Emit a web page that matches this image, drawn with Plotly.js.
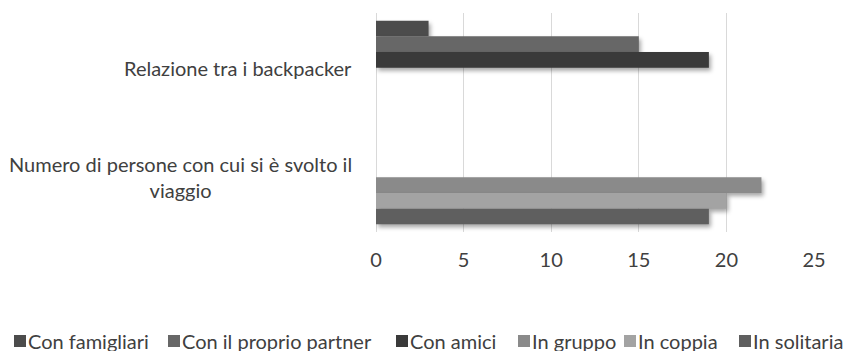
<!DOCTYPE html>
<html>
<head>
<meta charset="utf-8">
<script src="https://cdn.plot.ly/plotly-3.0.1.min.js"></script>
<style>
  html, body { margin: 0; padding: 0; background: #fff; }
  #chart { width: 844px; height: 351px; }
  /* soft drop shadow under the bars */
  .barlayer .point path { filter: drop-shadow(2px 3px 2px rgba(0,0,0,0.35)); }
  /* keep each legend swatch snug against its label */
  .infolayer .legendpoints { transform: translateX(12px); }
</style>
</head>
<body>
<div id="chart"></div>
<script>
// Categories (top to bottom)
const categories = [
  "Relazione tra i backpacker",
  "Numero di persone con cui si è svolto il<br>viaggio"
];

// Series names
const seriesNames = [
  "Con famigliari",
  "Con il proprio partner",
  "Con amici",
  "In gruppo",
  "In coppia",
  "In solitaria"
];

// Values per series, one per category
const conFamigliari = [3, null];
const conPartner    = [15, null];
const conAmici      = [19, null];
const inGruppo      = [null, 22];
const inCoppia      = [null, 20];
const inSolitaria   = [null, 19];

const xTicks = [0, 5, 10, 15, 20, 25];

const seriesValues = [conFamigliari, conPartner, conAmici, inGruppo, inCoppia, inSolitaria];
const seriesColors = ["#4c4c4c", "#676767", "#3a3a3a", "#8a8a8a", "#a3a3a3", "#5f5f5f"];

// Left edge of each legend label, px from the page's left
const legendTextLeft = [28, 182, 410, 532, 638, 753];

const FONT = "Lato, 'Open Sans', sans-serif";
const W = 844, H = 351;
const LEGEND_INDENT = -12;
const LEGEND_TEXT_OFFSET = 40 + LEGEND_INDENT;

const traces = seriesNames.map((name, i) => ({
  type: "bar",
  orientation: "h",
  name: name,
  x: seriesValues[i],
  y: categories,
  marker: { color: seriesColors[i], line: { width: 0 } },
  legend: i === 0 ? "legend" : "legend" + (i + 1),
  hoverinfo: "x+name"
}));

const layout = {
  width: W,
  height: H,
  margin: { l: 376, r: 30, t: 13, b: 119 },
  paper_bgcolor: "#ffffff",
  plot_bgcolor: "#ffffff",
  barmode: "group",
  bargap: 0.14,
  bargroupgap: 0,
  font: { family: FONT, size: 20, color: "#404040" },
  xaxis: {
    range: [0, 25],
    tickvals: xTicks,
    ticktext: xTicks.map(String),
    showgrid: true,
    gridcolor: "#d9d9d9",
    gridwidth: 1,
    zeroline: true,
    zerolinecolor: "#d9d9d9",
    zerolinewidth: 1,
    showline: false,
    ticks: "",
    ticklabelstandoff: 14,
    tickfont: { family: FONT, size: 20, color: "#404040" },
    fixedrange: true
  },
  yaxis: {
    type: "category",
    categoryorder: "array",
    categoryarray: categories,
    autorange: "reversed",
    showticklabels: false,
    showgrid: false,
    zeroline: false,
    showline: false,
    ticks: "",
    fixedrange: true
  },
  annotations: categories.map(c => ({
    xref: "paper",
    yref: "y",
    x: 0,
    y: c,
    xanchor: "right",
    yanchor: "middle",
    xshift: -22,
    align: "center",
    showarrow: false,
    text: c,
    font: { family: FONT, size: 20, color: "#404040" }
  })),
  showlegend: true
};

// One single-entry legend per series, laid out in a row along the bottom
seriesNames.forEach((n, i) => {
  const key = i === 0 ? "legend" : "legend" + (i + 1);
  layout[key] = {
    orientation: "h",
    xref: "container",
    yref: "container",
    x: Math.max(0, legendTextLeft[i] - LEGEND_TEXT_OFFSET) / W,
    xanchor: "left",
    y: 1 - 341 / H,
    yanchor: "middle",
    indentation: LEGEND_INDENT,
    bgcolor: "rgba(0,0,0,0)",
    borderwidth: 0,
    font: { family: FONT, size: 20, color: "#404040" },
    itemclick: false,
    itemdoubleclick: false
  };
});

Plotly.newPlot("chart", traces, layout, { displayModeBar: false, staticPlot: true });
</script>
</body>
</html>
